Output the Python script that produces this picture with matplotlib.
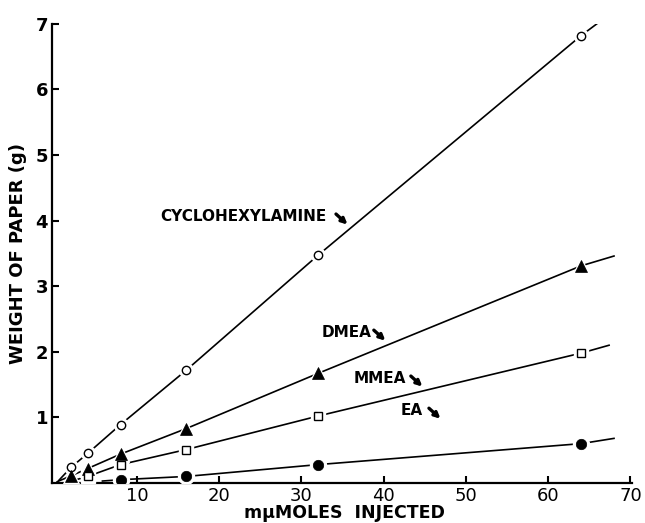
import numpy as np
import matplotlib
matplotlib.use('Agg')
from matplotlib import pyplot as plt

plt.rcParams['font.family'] = ['DejaVu Sans']

# data (mu-moles injected vs weight of paper, g)
cyc_x = [2, 4, 8, 16, 32, 64]
cyc_y = [0.24, 0.45, 0.89, 1.72, 3.47, 6.82]
dmea_x = [2, 4, 8, 16, 32, 64]
dmea_y = [0.11, 0.22, 0.44, 0.83, 1.67, 3.31]
mmea_x = [4, 8, 16, 32, 64]
mmea_y = [0.10, 0.28, 0.51, 1.02, 1.98]
ea_x = [8, 16, 32, 64]
ea_y = [0.05, 0.10, 0.28, 0.60]

# where the drawn curves start and stop (x, y)
cyc_ends = [(0.5, 0.04), (67.2, 7.12)]
dmea_ends = [(0.3, 0.02), (68.0, 3.46)]
mmea_ends = [(2.6, 0.05), (67.4, 2.10)]
ea_ends = [(5.8, 0.03), (68.0, 0.68)]

labels = ['CYCLOHEXYLAMINE', 'DMEA', 'MMEA', 'EA']
xticks = [10, 20, 30, 40, 50, 60, 70]
yticks = [1, 2, 3, 4, 5, 6, 7]

fig = plt.figure(figsize=(6.45, 5.23), dpi=100)
ax = fig.add_axes([0.081, 0.0765, 0.899, 0.878])

series = [
    (cyc_x, cyc_y, cyc_ends, dict(marker='o', ms=6, mfc='white', mew=1.0)),
    (dmea_x, dmea_y, dmea_ends, dict(marker='^', ms=8, mfc='black', mew=0.5)),
    (mmea_x, mmea_y, mmea_ends, dict(marker='s', ms=6, mfc='white', mew=1.0)),
    (ea_x, ea_y, ea_ends, dict(marker='o', ms=7.5, mfc='black', mew=0.5)),
]

for xs, ys, ends, mk in series:
    lx = [ends[0][0]] + list(xs) + [ends[1][0]]
    ly = [ends[0][1]] + list(ys) + [ends[1][1]]
    ax.plot(lx, ly, color='black', lw=1.2, zorder=2)
    # white halo so the line breaks around each symbol
    ax.plot(xs, ys, ls='none', marker=mk['marker'], ms=mk['ms'] + 4,
            mfc='white', mec='white', zorder=3)
    ax.plot(xs, ys, ls='none', color='black', mec='black', zorder=4, **mk)

# curve labels with small arrows
lab_pos = [(12.8, 4.07), (32.4, 2.30), (36.4, 1.60), (42.0, 1.11)]
arr_pos = [((34.2, 4.10), (35.6, 3.94)), ((38.8, 2.33), (40.2, 2.17)),
           ((43.3, 1.63), (44.7, 1.47)), ((45.5, 1.14), (46.9, 0.98))]
for t, (px, py), (a0, a1) in zip(labels, lab_pos, arr_pos):
    ax.text(px, py, t, fontsize=11, fontweight='bold', ha='left', va='center')
    ax.annotate('', xy=a1, xytext=a0,
                arrowprops=dict(arrowstyle='-|>', lw=2.4, color='black',
                                mutation_scale=8, shrinkA=0, shrinkB=0))

ax.set_xlim(-0.3, 70.2)
ax.set_ylim(0, 7)
ax.set_xticks(xticks)
ax.set_yticks(yticks)
ax.set_xticklabels([str(v) for v in xticks], fontsize=13)
ax.set_yticklabels([str(v) for v in yticks], fontsize=13, fontweight='bold')
ax.tick_params(direction='in', length=5, width=1.5, pad=3)
for s in ['top', 'right']:
    ax.spines[s].set_visible(False)
for s in ['left', 'bottom']:
    ax.spines[s].set_linewidth(1.6)

ax.set_xlabel('m\u03bcMOLES  INJECTED', fontsize=12.5, fontweight='bold')
ax.xaxis.set_label_coords(0.504, -0.077)
ax.xaxis.label.set_va('baseline')
ax.set_ylabel('WEIGHT OF PAPER (g)', fontsize=13, fontweight='bold', labelpad=6)

fig.savefig('out.png', dpi=100)
